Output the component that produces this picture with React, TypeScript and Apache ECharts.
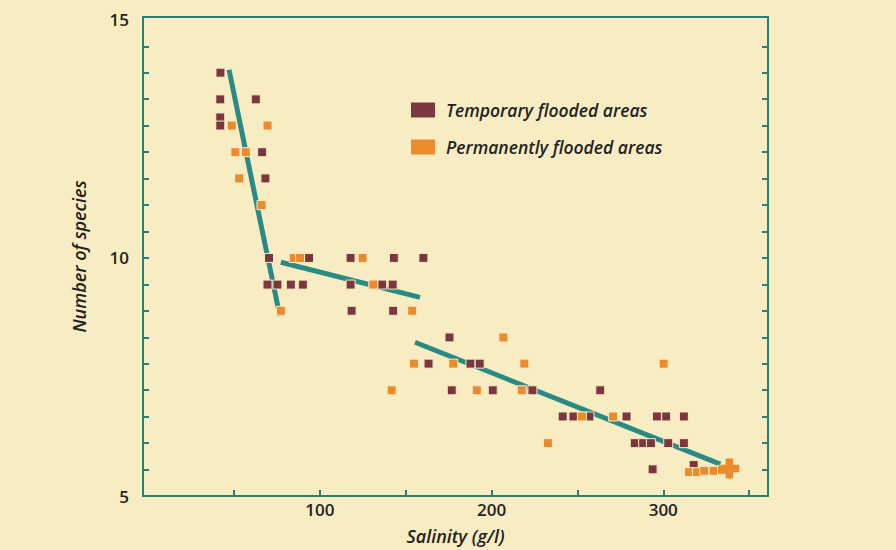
import React, { useEffect, useRef } from "react";
import * as echarts from "echarts";

// Salinity (g/l) vs number of species
const temporaryX = [42.1, 42, 62.7, 42, 42, 66.4, 68.3, 70.4, 93.7, 117.9, 143.1, 160.3, 69.5, 75.3, 83.1, 90.1, 117.9, 136.3, 142.4, 118.5, 142.7, 175.5, 163.3, 187.7, 193.1, 176.8, 200.7, 223.8, 263.3, 241.4, 247.7, 257, 278.6, 296.3, 301.7, 312, 283.4, 288.3, 292.8, 302.9, 312, 293.8, 317.7];
const temporaryY = [13.89, 13.33, 13.33, 12.95, 12.78, 12.22, 11.67, 10, 10, 10, 10, 10, 9.44, 9.44, 9.44, 9.44, 9.44, 9.44, 9.44, 8.89, 8.89, 8.33, 7.78, 7.78, 7.78, 7.22, 7.22, 7.22, 7.22, 6.67, 6.67, 6.67, 6.67, 6.67, 6.67, 6.67, 6.11, 6.11, 6.11, 6.11, 6.11, 5.56, 5.65];

const permanentX = [48.7, 69.5, 50.8, 56.9, 53, 66, 84.8, 88.5, 124.9, 131.1, 77.3, 153.8, 206.9, 154.8, 177.7, 219.1, 300.2, 141.8, 191.4, 217.6, 252.6, 270.8, 232.8, 315, 319.6, 323.9, 329.3, 334.2];
const permanentY = [12.78, 12.78, 12.22, 12.22, 11.67, 11.11, 10, 10, 10, 9.44, 8.89, 8.89, 8.33, 7.78, 7.78, 7.78, 7.78, 7.22, 7.22, 7.22, 6.67, 6.67, 6.11, 5.5, 5.5, 5.53, 5.53, 5.55];

// highlighted point (orange cross)
const crossPoint = [338.5, 5.58];

// fitted trend segments
const trend1 = [[47.1, 13.95], [76.7, 8.78]];
const trend2 = [[77.3, 9.91], [158.3, 9.17]];
const trend3 = [[155.4, 8.23], [333.2, 5.67]];

const xLabels = [100, 200, 300];
const xTicks = [50, 100, 150, 200, 250, 300, 350];
const yLabels = [5, 10, 15];
const yTickLevels = 18; // minor tick levels between 5 and 15

const seriesNames = ["Temporary flooded areas", "Permanently flooded areas"];

const BG = "#f8edc2";
const AXIS = "#2e7d74";
const TEAL = "#2a8b84";
const MAROON = "#7b3640";
const ORANGE = "#ec8a2e";
const FONT = "'Open Sans', 'Noto Sans', sans-serif";

export default function App() {
  const ref = useRef<HTMLDivElement>(null);
  useEffect(() => {
    if (!ref.current) return;
    const chart = echarts.init(ref.current, undefined, { renderer: "svg" });
    const yTicks: number[] = [];
    for (let k = 1; k < yTickLevels; k++) yTicks.push(5 + (10 * k) / yTickLevels);

    const temp = temporaryX.map((x, i) => [x, temporaryY[i]]);
    const perm: any[] = permanentX.map((x, i) => [x, permanentY[i]]);
    perm.push({
      value: crossPoint,
      symbol: "path://M2.5,0H5.5V2.5H8V5.5H5.5V8H2.5V5.5H0V2.5H2.5Z",
      symbolSize: 20,
      itemStyle: { borderWidth: 0 },
    });

    const lineSeries = (d: number[][]) => ({
      type: "line",
      data: d,
      showSymbol: false,
      symbol: "none",
      lineStyle: { color: TEAL, width: 5 },
      z: 2,
      silent: true,
    });

    const labelStyle = { color: "#222", fontFamily: FONT, fontSize: 17, fontWeight: 600 };
    const nameStyle = { color: "#222", fontFamily: FONT, fontSize: 18, fontWeight: 600, fontStyle: "italic" };
    const axisLine = { show: true, onZero: false, lineStyle: { color: AXIS, width: 2 } };

    chart.setOption({
      animation: false,
      backgroundColor: BG,
      grid: { left: 143, right: 128, top: 17, bottom: 53, containLabel: false },
      legend: {
        data: seriesNames.map((n) => ({ name: n, icon: "rect" })),
        orient: "vertical",
        left: 409,
        top: 100,
        padding: 0,
        itemWidth: 26,
        itemHeight: 17,
        itemGap: 17,
        textStyle: { ...nameStyle, fontSize: 17.5, lineHeight: 20, padding: [0, 0, 0, 5] },
      },
      xAxis: [
        {
          type: "value",
          min: -3,
          max: 361,
          name: "Salinity (g/l)",
          nameLocation: "middle",
          nameGap: 31,
          nameTextStyle: nameStyle,
          splitLine: { show: false },
          axisLine,
          axisTick: { show: true, inside: true, length: 6, customValues: xTicks, lineStyle: { color: AXIS, width: 2 } },
          axisLabel: { ...labelStyle, margin: 5, customValues: xLabels },
        },
        {
          type: "value",
          position: "top",
          min: -3,
          max: 361,
          splitLine: { show: false },
          axisLine,
          axisTick: { show: false },
          axisLabel: { show: false },
        },
      ],
      yAxis: [
        {
          type: "value",
          position: "left",
          min: 5,
          max: 15.06,
          name: "Number of species",
          nameLocation: "middle",
          nameGap: 55,
          nameTextStyle: nameStyle,
          splitLine: { show: false },
          axisLine,
          axisTick: { show: true, inside: true, length: 6, customValues: yTicks, lineStyle: { color: AXIS, width: 2 } },
          axisLabel: { ...labelStyle, margin: 14, customValues: yLabels },
        },
        {
          type: "value",
          position: "right",
          min: 5,
          max: 15.06,
          splitLine: { show: false },
          axisLine,
          axisTick: { show: true, inside: true, length: 6, customValues: yTicks, lineStyle: { color: AXIS, width: 2 } },
          axisLabel: { show: false },
        },
      ],
      series: [
        lineSeries(trend1),
        lineSeries(trend2),
        lineSeries(trend3),
        {
          name: seriesNames[0],
          type: "scatter",
          symbol: "rect",
          symbolSize: 9,
          data: temp,
          itemStyle: { color: MAROON, borderColor: BG, borderWidth: 1, opacity: 1 },
          z: 3,
        },
        {
          name: seriesNames[1],
          type: "scatter",
          symbol: "rect",
          symbolSize: 9,
          data: perm,
          itemStyle: { color: ORANGE, borderColor: BG, borderWidth: 1, opacity: 1 },
          z: 3,
        },
      ],
    });
    return () => chart.dispose();
  }, []);
  return (
    <div
      ref={ref}
      style={{ position: "fixed", left: 0, top: 0, width: 896, height: 550, background: BG }}
    />
  );
}
